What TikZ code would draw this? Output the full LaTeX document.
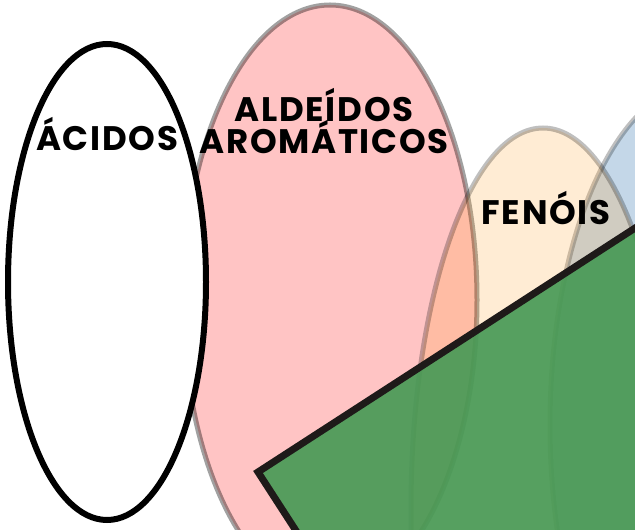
\documentclass[tikz,border=0pt]{standalone}
\usepackage{fontspec}
\setmainfont{Poppins}
\newfontfamily\lblfont{Poppins}[LetterSpace=5]
\usetikzlibrary{shapes.geometric}
\definecolor{pinkfill}{RGB}{255,196,196}
\definecolor{orangefill}{RGB}{255,160,40}
\definecolor{bluefill}{RGB}{86,141,189}
\definecolor{greenfill}{RGB}{72,154,86}
\definecolor{darkline}{RGB}{30,26,25}
\tikzset{
  blob/.style={ellipse, inner sep=0pt, line width=5pt},
  lbl/.style={font=\lblfont\fontsize{34}{34}\selectfont\bfseries, anchor=base, inner sep=0pt, text=black}
}
\begin{document}
\begin{tikzpicture}[x=1pt,y=1pt]
\useasboundingbox (0,0) rectangle (635,530);
\clip (0,0) rectangle (635,530);
% pink ellipse
\node[blob, fill=pinkfill, draw=black, draw opacity=0.37, minimum width=294pt, minimum height=590pt] (ald) at (330,230) {};
% blue ellipse
\node[blob, fill=bluefill, fill opacity=0.35, draw=black, draw opacity=0.25, minimum width=300pt, minimum height=680pt] (blue) at (700,105) {};
% fenois ellipse
\node[blob, fill=orangefill, fill opacity=0.2, draw=black, draw opacity=0.25, minimum width=264pt, minimum height=760pt] (fen) at (543,22) {};
% acidos ellipse
\node[blob, line width=6pt, fill=white, draw=black, minimum width=198pt, minimum height=476pt] (aci) at (107,248) {};
% labels
\node[lbl] (taci) at (107,379) {ÁCIDOS};
\node[lbl] (tald1) at (324,408) {ALDEÍDOS};
\node[lbl] (tald2) at (324,376) {AROMÁTICOS};
\node[lbl] (tfen) at (546,305) {FENÓIS};
% green square
\coordinate (g1) at (258,58);
\draw[line width=7pt, draw=darkline, fill=greenfill, fill opacity=0.92, line join=miter]
  (g1) -- ++(32.9:700) -- ++(-57.1:700) -- ++(212.9:700) -- cycle;
\end{tikzpicture}
\end{document}
